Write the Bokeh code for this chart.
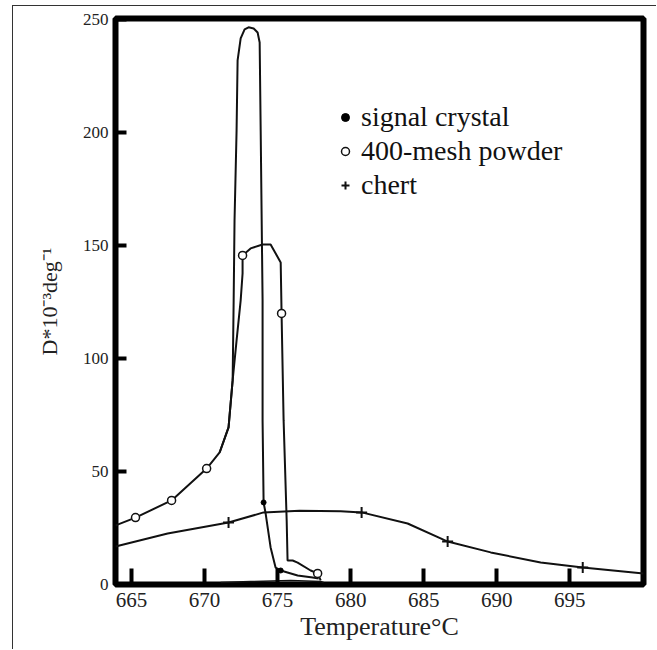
from bokeh.plotting import figure
from bokeh.models import Legend, LegendItem, FixedTicker, Range1d
from bokeh.embed import file_html
from bokeh.resources import INLINE

# ---- data ----
x_ticks = [665, 670, 675, 680, 685, 690, 695]
y_ticks = [0, 50, 100, 150, 200, 250]

crystal_x = [671.03, 671.64, 671.92, 671.99, 672.05, 672.19, 672.26, 672.47, 672.74, 673.01,
             673.36, 673.63, 673.77, 673.84, 673.97, 673.97, 674.04, 674.18, 674.52, 674.86,
             675.21, 676.37, 677.40, 677.81]
crystal_y = [58.4, 69.5, 90.3, 125.7, 161.1, 200.9, 231.9, 241.6, 245.6, 246.5,
             246.0, 244.2, 239.8, 200.9, 125.7, 72.6, 36.3, 31.4, 16.4, 7.5,
             6.2, 4.0, 3.1, 2.7]
crystal_base_x = [671.1, 673.15, 675.89, 677.95, 678.15]
crystal_base_y = [0.9, 1.3, 1.8, 1.3, 0.9]
crystal_mark_x = [674.04, 675.21]
crystal_mark_y = [36.3, 6.2]

powder_x = [663.9, 664.04, 665.27, 667.74, 670.14, 671.03, 671.64, 671.92, 672.19, 672.47,
            672.60, 672.60, 673.15, 673.97, 674.52, 675.21, 675.27, 675.41, 675.62, 675.68,
            676.03, 676.37, 677.26, 677.74, 677.95]
powder_y = [26.0, 26.5, 29.6, 37.2, 51.3, 58.4, 69.5, 90.3, 108.0, 125.7,
            137.6, 145.6, 148.7, 150.4, 150.4, 142.5, 119.9, 72.6, 28.3, 10.6,
            10.6, 9.7, 6.2, 4.9, 1.8]
powder_mark_x = [665.27, 667.74, 670.14, 672.60, 675.27, 677.74]
powder_mark_y = [29.6, 37.2, 51.3, 145.6, 119.9, 4.9]

chert_x = [663.9, 667.47, 671.64, 674.04, 676.5, 679.32, 680.75, 683.90, 686.16, 686.64,
           689.59, 693.01, 695.89, 700.05]
chert_y = [16.8, 22.6, 27.4, 31.9, 32.6, 32.4, 31.9, 27.0, 20.4, 19.0,
           14.2, 9.7, 7.5, 4.9]
chert_mark_x = [671.64, 680.75, 686.64, 695.89]
chert_mark_y = [27.4, 31.9, 19.0, 7.5]

legend_labels = ["signal crystal", "400-mesh powder", "chert"]

SERIF = "Liberation Serif"

p = figure(width=644, height=644,
           x_range=Range1d(663.9, 700.05), y_range=Range1d(0, 250.4),
           output_backend="svg", toolbar_location=None,
           min_border_left=102, min_border_right=14,
           min_border_top=12, min_border_bottom=66)
p.styles = {"margin-left": "12px", "margin-top": "5px",
            "border-left": "1px solid #333", "border-top": "1px solid #333"}

p.grid.visible = False
p.outline_line_color = "black"
p.outline_line_width = 6
p.background_fill_color = "white"
p.border_fill_color = "white"

# curves
p.line(crystal_x, crystal_y, line_color="#111", line_width=2)
p.line(crystal_base_x, crystal_base_y, line_color="#111", line_width=1.5)
p.line(powder_x, powder_y, line_color="#111", line_width=2)
p.line(chert_x, chert_y, line_color="#111", line_width=2)

r_c = p.scatter(crystal_mark_x, crystal_mark_y, marker="circle", size=5,
                fill_color="black", line_color="black")
r_p = p.scatter(powder_mark_x, powder_mark_y, marker="circle", size=8,
                fill_color="white", line_color="#111", line_width=1.5)
r_h = p.scatter(chert_mark_x, chert_mark_y, marker="cross", size=11,
                line_color="#111", line_width=2)

legend = Legend(items=[LegendItem(label=legend_labels[0], renderers=[r_c]),
                       LegendItem(label=legend_labels[1], renderers=[r_p]),
                       LegendItem(label=legend_labels[2], renderers=[r_h])],
                location=(220, 382), padding=0, margin=0, spacing=0,
                label_height=34, glyph_height=34, glyph_width=20, label_standoff=6,
                border_line_color=None, background_fill_alpha=0,
                label_text_font=SERIF, label_text_font_size="28px",
                label_text_color="#111")
p.add_layout(legend)

# axes
xa = p.xaxis[0]
xa.ticker = FixedTicker(ticks=x_ticks)
xa.axis_line_color = None
xa.major_tick_in = 16
xa.major_tick_out = 0
xa.major_tick_line_width = 4
xa.minor_tick_line_color = None
xa.major_label_text_font = SERIF
xa.major_label_text_font_size = "21px"
xa.major_label_text_color = "#222"
xa.major_label_standoff = 8
xa.axis_label = "Temperature°C"
xa.axis_label_text_font = SERIF
xa.axis_label_text_font_size = "26px"
xa.axis_label_text_font_style = "normal"
xa.axis_label_text_color = "#222"
xa.axis_label_standoff = 2

ya = p.yaxis[0]
ya.ticker = FixedTicker(ticks=y_ticks)
ya.axis_line_color = None
ya.major_tick_in = 11
ya.major_tick_out = 0
ya.major_tick_line_width = 4
ya.minor_tick_line_color = None
ya.major_label_text_font = SERIF
ya.major_label_text_font_size = "17px"
ya.major_label_text_color = "#222"
ya.major_label_standoff = 7
ya.axis_label = "D*10⁻³deg⁻¹"
ya.axis_label_text_font = SERIF
ya.axis_label_text_font_size = "22px"
ya.axis_label_text_font_style = "normal"
ya.axis_label_text_color = "#222"
ya.axis_label_standoff = 18

open("out.html", "w").write(file_html(p, INLINE))
